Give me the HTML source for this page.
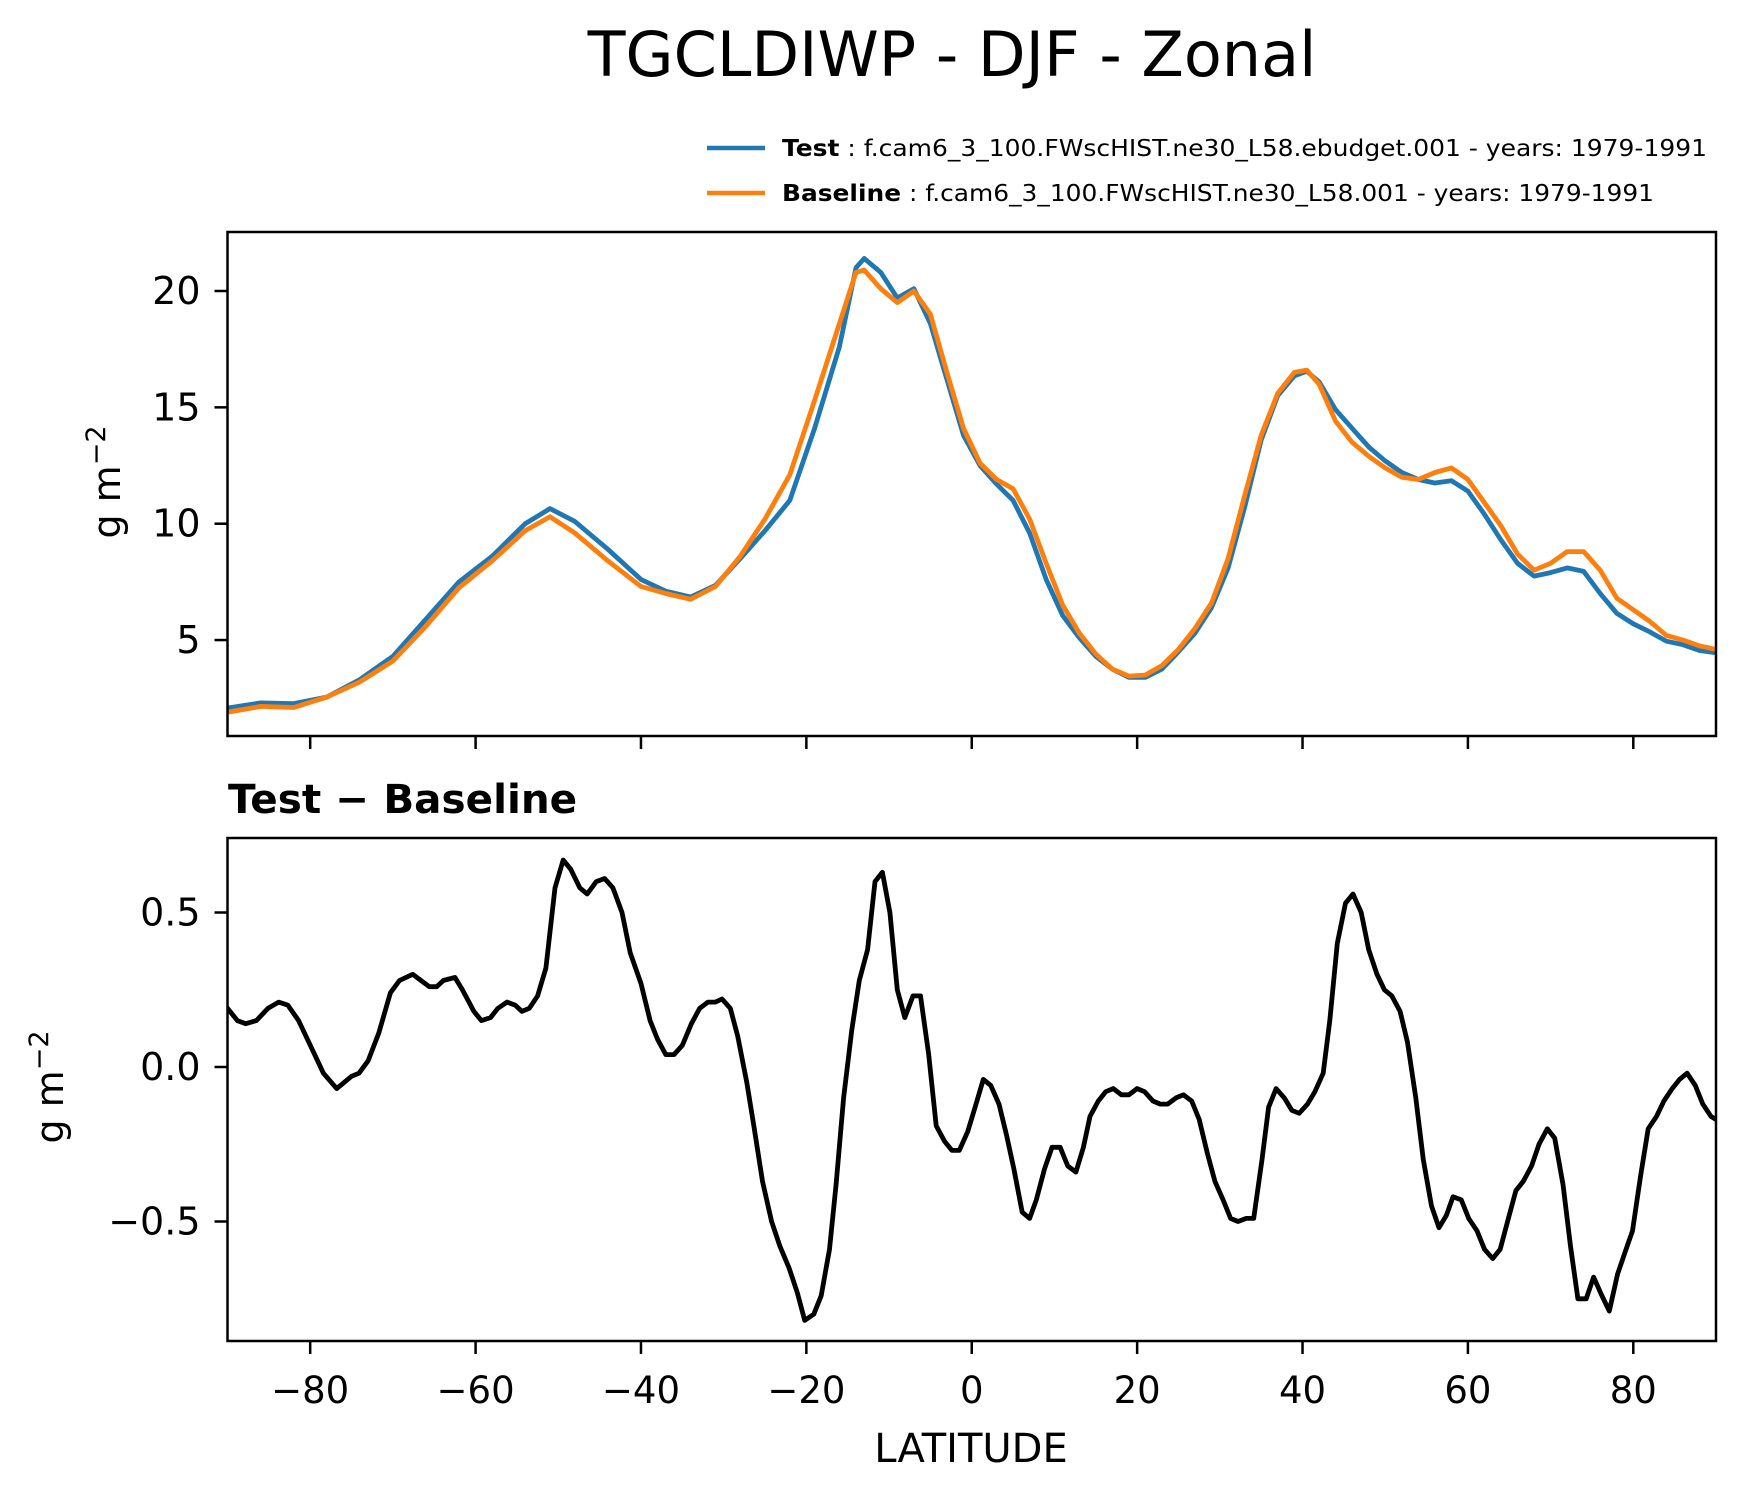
<!DOCTYPE html>
<html><head><meta charset="utf-8">
<style>
html,body{margin:0;padding:0;background:#fff;}
svg{display:block;font-family:"DejaVu Sans","Liberation Sans",sans-serif;}
</style></head>
<body>
<svg id="chart" width="1745" height="1496" viewBox="0 0 1745 1496" xmlns="http://www.w3.org/2000/svg">
<text x="952" y="76" font-size="62" text-anchor="middle">TGCLDIWP - DJF - Zonal</text>
<g>
<line x1="707" y1="148" x2="765" y2="148" stroke="#1f77b4" stroke-width="4.5"/>
<text x="782" y="156" font-size="23" textLength="925" lengthAdjust="spacingAndGlyphs"><tspan font-weight="bold">Test</tspan> : f.cam6_3_100.FWscHIST.ne30_L58.ebudget.001 - years: 1979-1991</text>
<line x1="707" y1="193" x2="765" y2="193" stroke="#ff7f0e" stroke-width="4.5"/>
<text x="782" y="201" font-size="23" textLength="872" lengthAdjust="spacingAndGlyphs"><tspan font-weight="bold">Baseline</tspan> : f.cam6_3_100.FWscHIST.ne30_L58.001 - years: 1979-1991</text>
</g>
<g id="top"></g>
<g id="bot"></g>
<text x="228" y="813" font-size="40.5" font-weight="bold">Test − Baseline</text>
<text x="971" y="1462" font-size="40" text-anchor="middle">LATITUDE</text>
<text transform="translate(120,482) rotate(-90)" font-size="38" text-anchor="middle">g m<tspan dy="-15" font-size="27">−2</tspan></text>
<text transform="translate(63,1087) rotate(-90)" font-size="38" text-anchor="middle">g m<tspan dy="-15" font-size="27">−2</tspan></text>
</svg>
<script>
const latTop = [-90,-86,-82,-78,-74,-70,-66,-62,-58,-54,-51,-48,-44,-40,-37,-34,-31,-28,-25,-22,-19,-16,-14,-13,-11,-9,-7,-5,-3,-1,1,3,5,7,9,11,13,15,17,19,21,23,25,27,29,31,33,35,37,39,40.5,42,44,46,48,50,52,54,56,58,60,62,64,66,68,70,72,74,76,78,80,82,84,86,88,90];
const testVals = [2.08,2.3,2.27,2.55,3.3,4.3,5.9,7.5,8.6,10.0,10.65,10.1,8.9,7.6,7.1,6.85,7.35,8.5,9.7,11,14.1,17.6,21,21.4,20.8,19.7,20.1,18.6,16.2,13.8,12.5,11.7,11.0,9.6,7.6,6.05,5.1,4.3,3.75,3.4,3.4,3.75,4.5,5.3,6.4,8.1,10.7,13.6,15.5,16.35,16.55,16.1,14.9,14.1,13.3,12.7,12.2,11.9,11.75,11.85,11.4,10.4,9.3,8.3,7.75,7.9,8.1,7.95,7.0,6.15,5.7,5.35,4.95,4.8,4.55,4.45];
const baseVals = [1.9,2.15,2.1,2.55,3.2,4.1,5.6,7.25,8.4,9.7,10.3,9.6,8.4,7.3,7.0,6.75,7.3,8.6,10.2,12.1,15.3,18.6,20.8,20.9,20.1,19.5,20.0,19,16.5,14.1,12.6,11.9,11.5,10.2,8.3,6.5,5.3,4.4,3.75,3.45,3.5,3.9,4.6,5.5,6.6,8.5,11.2,13.8,15.6,16.5,16.6,16.0,14.4,13.5,12.9,12.4,12.0,11.9,12.2,12.4,11.9,10.9,9.9,8.7,8.0,8.3,8.8,8.8,8.0,6.8,6.3,5.8,5.2,5.0,4.75,4.6];
const latDiff = [-90,-88.8,-87.8,-86.5,-85.1,-83.8,-82.7,-81.4,-79.8,-78.4,-76.8,-75,-74.1,-73,-71.7,-70.3,-69.2,-67.6,-65.6,-64.7,-63.9,-62.5,-61.6,-60.2,-59.3,-58.2,-57.3,-56.2,-55.2,-54.4,-53.5,-52.5,-51.5,-50.4,-49.4,-48.5,-47.4,-46.5,-45.4,-44.4,-43.4,-42.3,-41.3,-40,-38.9,-38,-37,-36,-35,-33.9,-32.9,-31.9,-31,-30.2,-29.2,-28.3,-27.2,-26.3,-25.3,-24.2,-23.2,-22.1,-21.1,-20.2,-19.1,-18.2,-17.2,-16.4,-15.5,-14.5,-13.6,-12.6,-11.7,-10.8,-9.9,-9,-8.1,-7.1,-6.2,-5.2,-4.3,-3.3,-2.4,-1.5,-0.5,0.4,1.4,2.3,3.3,4.2,5.1,6.1,7,7.8,8.8,9.7,10.7,11.6,12.6,13.5,14.3,15.3,16.2,17.1,18.1,19,20,20.9,21.9,22.8,23.7,24.7,25.6,26.6,27.5,28.5,29.4,30.4,31.3,32.2,33.2,34.1,35.1,35.9,36.8,37.8,38.7,39.6,40.6,41.5,42.5,43.3,44.2,45.2,46.1,47.1,48,49,49.9,50.8,51.8,52.7,53.7,54.6,55.6,56.5,57.4,58.2,59.2,60.1,61.1,62,63,63.9,64.9,65.8,66.7,67.7,68.6,69.6,70.5,71.5,72.4,73.3,74.3,75.2,76.2,77.1,78.1,79,79.9,80.9,81.8,82.8,83.7,84.7,85.6,86.5,87.5,88.4,89.4,90];
const diffVals = [0.19,0.15,0.14,0.15,0.19,0.21,0.20,0.15,0.06,-0.02,-0.07,-0.03,-0.02,0.02,0.11,0.24,0.28,0.30,0.26,0.26,0.28,0.29,0.25,0.18,0.15,0.16,0.19,0.21,0.20,0.18,0.19,0.23,0.32,0.58,0.67,0.64,0.58,0.56,0.60,0.61,0.58,0.50,0.37,0.27,0.15,0.09,0.04,0.04,0.07,0.14,0.19,0.21,0.21,0.22,0.19,0.10,-0.05,-0.20,-0.37,-0.50,-0.58,-0.65,-0.73,-0.82,-0.80,-0.74,-0.59,-0.38,-0.10,0.12,0.28,0.38,0.60,0.63,0.50,0.25,0.16,0.23,0.23,0.04,-0.19,-0.24,-0.27,-0.27,-0.21,-0.13,-0.04,-0.06,-0.12,-0.22,-0.33,-0.47,-0.49,-0.43,-0.33,-0.26,-0.26,-0.32,-0.34,-0.26,-0.16,-0.11,-0.08,-0.07,-0.09,-0.09,-0.07,-0.08,-0.11,-0.12,-0.12,-0.10,-0.09,-0.11,-0.17,-0.28,-0.37,-0.43,-0.49,-0.50,-0.49,-0.49,-0.30,-0.13,-0.07,-0.10,-0.14,-0.15,-0.12,-0.08,-0.02,0.15,0.40,0.53,0.56,0.50,0.38,0.30,0.25,0.23,0.18,0.08,-0.10,-0.30,-0.45,-0.52,-0.48,-0.42,-0.43,-0.49,-0.53,-0.59,-0.62,-0.59,-0.49,-0.40,-0.37,-0.32,-0.25,-0.20,-0.23,-0.38,-0.58,-0.75,-0.75,-0.68,-0.74,-0.79,-0.67,-0.60,-0.53,-0.35,-0.20,-0.16,-0.11,-0.07,-0.04,-0.02,-0.06,-0.12,-0.16,-0.17];
const xTicks = [-80,-60,-40,-20,0,20,40,60,80];
const xTickLabels = ["−80","−60","−40","−20","0","20","40","60","80"];
const topTicks = [5,10,15,20];
const topTickLabels = ["5","10","15","20"];
const botTicks = [-0.5,0,0.5];
const botTickLabels = ["−0.5","0.0","0.5"];

const NS = "http://www.w3.org/2000/svg";
const L = 227.5, R = 1716;
const xs = v => L + (v + 90) / 180 * (R - L);
const yTop = v => 291 + (20 - v) * 23.27;
const yBot = v => 1067 - v * 309;
function mk(parent, tag, attrs) {
  const e = document.createElementNS(NS, tag);
  for (const k in attrs) e.setAttribute(k, attrs[k]);
  parent.appendChild(e);
  return e;
}
function panel(g, top, bottom, ys, ticks, labels, showX, prefix) {
  const clipId = prefix + "-clip";
  const cp = mk(mk(g, "defs", {}), "clipPath", {id: clipId});
  mk(cp, "rect", {x: L, y: top, width: R - L, height: bottom - top});
  const lines = mk(g, "g", {"clip-path": "url(#" + clipId + ")"});
  
  
  ticks.forEach((t, i) => {
    const y = ys(t);
    const tk = mk(g, "line", {x1: L - 13, x2: L, y1: y, y2: y, stroke: "#000", "stroke-width": 2.5});
    
    
    const tl = mk(g, "text", {x: L - 27, y: y + 13, "font-size": 38, "text-anchor": "end"});
    tl.textContent = labels[i];
    
    
  });
  xTicks.forEach((t, i) => {
    const x = xs(t);
    const tk = mk(g, "line", {x1: x, x2: x, y1: bottom, y2: bottom + 13, stroke: "#000", "stroke-width": 2.5});
    
    
    if (showX) {
      const tl = mk(g, "text", {x: x, y: bottom + 62, "font-size": 37, "text-anchor": "middle"});
      tl.textContent = xTickLabels[i];
      
      
    }
  });
  const fr = mk(g, "rect", {x: L, y: top, width: R - L, height: bottom - top, fill: "none", stroke: "#000", "stroke-width": 2.5});
  
  
  return lines;
}
function path(g, xsArr, vals, ys, color, w, name) {
  const d = xsArr.map((x, i) => (i ? "L" : "M") + xs(x).toFixed(1) + "," + ys(vals[i]).toFixed(1)).join(" ");
  const p = mk(g, "path", {d: d, fill: "none", stroke: color, "stroke-width": w, "stroke-linejoin": "round", "stroke-linecap": "round"});
  
  
}
const tl = panel(document.getElementById("top"), 232, 736, yTop, topTicks, topTickLabels, false, "top");
path(tl, latTop, testVals, yTop, "#1f77b4", 4.8, "test-line");
path(tl, latTop, baseVals, yTop, "#ff7f0e", 4.8, "baseline-line");
const bl = panel(document.getElementById("bot"), 838, 1341, yBot, botTicks, botTickLabels, true, "diff");
path(bl, latDiff, diffVals, yBot, "#000", 4.8, "difference-line");
</script>
</body></html>
